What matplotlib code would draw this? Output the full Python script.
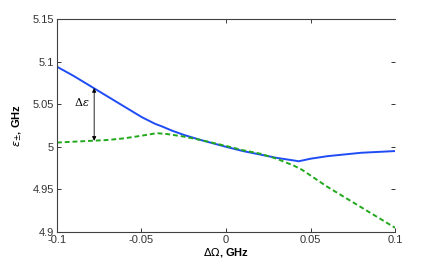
import matplotlib.pyplot as plt

# frequency detuning, GHz
x_blue = [-0.1, -0.09, -0.08, -0.07, -0.06, -0.05, -0.046, -0.042, -0.038, -0.032, -0.025, -0.015,
          0.0, 0.01, 0.02, 0.03, 0.04, 0.043, 0.05, 0.06, 0.07, 0.08, 0.09, 0.1]
eps_plus = [5.094, 5.083, 5.071, 5.059, 5.047, 5.035, 5.031, 5.027, 5.024, 5.019, 5.014, 5.008,
            5.0, 4.995, 4.991, 4.987, 4.984, 4.983, 4.986, 4.989, 4.991, 4.993, 4.994, 4.995]

x_green = [-0.1, -0.09, -0.08, -0.07, -0.06, -0.05, -0.041, -0.035, -0.025, -0.015,
           0.0, 0.01, 0.02, 0.03, 0.04, 0.045, 0.06, 0.08, 0.1]
eps_minus = [5.005, 5.006, 5.007, 5.008, 5.010, 5.013, 5.016, 5.015, 5.012, 5.008,
             5.001, 4.996, 4.992, 4.986, 4.978, 4.973, 4.953, 4.929, 4.905]

xticks = [-0.1, -0.05, 0, 0.05, 0.1]
xticklabels = ['-0.1', '-0.05', '0', '0.05', '0.1']
yticks = [4.9, 4.95, 5.0, 5.05, 5.1, 5.15]
yticklabels = ['4.9', '4.95', '5', '5.05', '5.1', '5.15']

plt.rcParams['font.family'] = ['Liberation Sans', 'DejaVu Sans']

fig = plt.figure(figsize=(4.36, 2.62), dpi=100)
ax = fig.add_axes([0.1307, 0.1145, 0.7753, 0.813])

ax.plot(x_blue, eps_plus, color='#1f4cf5', lw=1.4)
ax.plot(x_green, eps_minus, color='#22a81c', lw=1.4, ls=(0, (2.5, 1.5)))

# delta epsilon marker
ax.annotate('', xy=(-0.078, 5.069), xytext=(-0.078, 5.007),
            arrowprops=dict(arrowstyle='<|-|>', color='black', lw=0.6,
                            mutation_scale=6, shrinkA=0, shrinkB=0))
ax.text(-0.081, 5.052, r'$\Delta\varepsilon$', ha='right', va='center',
        fontsize=8, family='DejaVu Serif', math_fontfamily='dejavuserif')

ax.set_xlim(-0.1, 0.1)
ax.set_ylim(4.9, 5.15)
ax.set_xticks(xticks)
ax.set_xticklabels(xticklabels)
ax.set_yticks(yticks)
ax.set_yticklabels(yticklabels)
ax.tick_params(direction='in', length=3, width=0.7, labelsize=8, colors='#333333',
               pad=2)
ax.tick_params(axis='y', right=True)

for side in ['left', 'bottom', 'top']:
    ax.spines[side].set_color('#404040')
    ax.spines[side].set_linewidth(0.8)
ax.spines['right'].set_visible(False)

top = ax.secondary_xaxis('top')
top.set_xticks([0, 0.05])
top.tick_params(direction='in', length=3, width=0.7, labeltop=False, colors='#404040')
top.spines['top'].set_visible(False)

ax.set_xlabel(r'$\Delta\Omega$, GHz', fontsize=8, fontweight='bold', labelpad=1)
ax.set_ylabel(r'$\varepsilon_{\pm}$, GHz', fontsize=8, fontweight='bold', labelpad=6)

fig.savefig('out.png', dpi=100)
